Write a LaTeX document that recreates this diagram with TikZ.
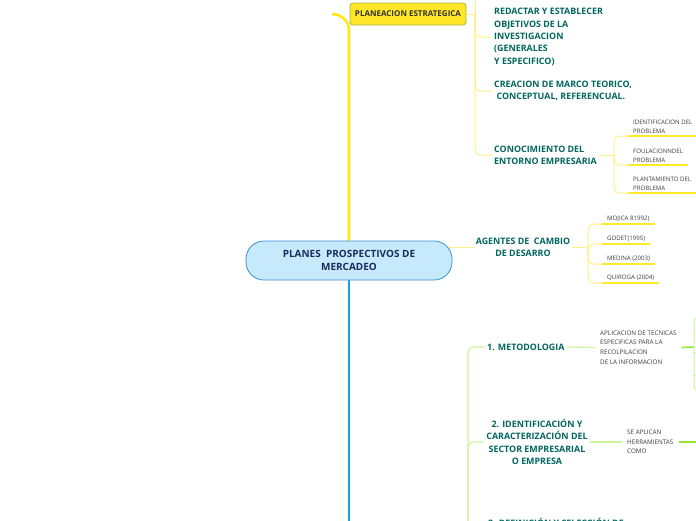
\documentclass[tikz,border=0pt]{standalone}
\usepackage{fontspec}
\setmainfont{Open Sans}
\usetikzlibrary{positioning,backgrounds,calc}
\definecolor{centerfill}{RGB}{198,234,251}
\definecolor{centerdraw}{RGB}{58,143,212}
\definecolor{centertext}{RGB}{26,43,94}
\definecolor{trunkblue}{RGB}{18,165,220}
\definecolor{trunkyellow}{RGB}{255,230,20}
\definecolor{planfill}{RGB}{255,230,41}
\definecolor{plandraw}{RGB}{156,180,58}
\definecolor{paleyellow}{RGB}{255,240,130}
\definecolor{lineyellow}{RGB}{255,234,40}
\definecolor{palegreen}{RGB}{205,245,155}
\definecolor{brightgreen}{RGB}{150,228,55}
\definecolor{topicteal}{RGB}{0,102,94}
\definecolor{leafgray}{RGB}{60,60,60}
\tikzstyle{central} = [rectangle, rounded corners=18pt, minimum width=206pt,
    minimum height=39pt, fill=centerfill, draw=centerdraw, line width=0.8pt,
    font=\fontsize{10}{13}\selectfont\bfseries, text=centertext, align=center]
\tikzstyle{planbox} = [rectangle, rounded corners=3pt, minimum width=116pt,
    minimum height=22pt, fill=planfill, draw=plandraw, line width=0.8pt,
    font=\fontsize{8}{10}\selectfont\bfseries, text=black!80]
\tikzstyle{topic} = [font=\fontsize{8.9}{12.3}\selectfont\bfseries, text=topicteal,
    align=left, inner sep=2pt]
\tikzstyle{leaf} = [font=\fontsize{6.1}{9}\selectfont, text=leafgray, align=left,
    inner xsep=5pt, inner ysep=2pt]
\tikzstyle{ytrunk} = [draw=trunkyellow, line width=2.6pt]
\tikzstyle{btrunk} = [draw=trunkblue, line width=2.6pt]
\tikzstyle{ybus} = [draw=paleyellow, line width=1pt, rounded corners=5pt]
\tikzstyle{uline} = [draw=lineyellow, line width=2pt]
\tikzstyle{gbus} = [draw=palegreen, line width=1.2pt, rounded corners=6pt]
\tikzstyle{gbright} = [draw=brightgreen, line width=1.6pt]

\begin{document}
\begin{tikzpicture}[x=1pt, y=-1pt]
\useasboundingbox (0,0) rectangle (696,520);
\clip (0,0) rectangle (696,520);

% ── Central topic ────
\node[central] (plans) at (349,260.5) {PLANES\ \ PROSPECTIVOS DE\\MERCADEO};

% ── Planeacion branch ────
\node[planbox] (plan) at (408,14) {PLANEACION ESTRATEGICA};
\node[topic, anchor=west] (redactar) at (492,37) {REDACTAR Y ESTABLECER\\OBJETIVOS DE LA\\INVESTIGACION\\(GENERALES\\Y ESPECIFICO)};
\node[topic, anchor=west] (marco) at (492,91) {CREACION DE MARCO TEORICO,\\\ CONCEPTUAL, REFERENCUAL.};
\node[topic, anchor=west] (entorno) at (492,155) {CONOCIMIENTO DEL\\ENTORNO EMPRESARIA};

\node[leaf, anchor=south west] (ident) at (628,136) {IDENTIFICACION DEL\\PROBLEMA};
\node[leaf, anchor=south west] (foul) at (628,165) {FOULACIONNDEL\\PROBLEMA};
\node[leaf, anchor=south west] (plant) at (628,193) {PLANTAMIENTO DEL\\PROBLEMA};

% ── Agentes branch ────
\node[topic, align=center] (agentes) at (523,247.5) {AGENTES DE\ \ CAMBIO\\DE DESARRO};
\node[leaf, anchor=south west] (mojica) at (602,224) {MOJICA 81992)};
\node[leaf, anchor=south west] (godet) at (602,244) {GODET(1995)};
\node[leaf, anchor=south west] (medina) at (602,264) {MEDINA (2003)};
\node[leaf, anchor=south west] (quiroga) at (602,283) {QUIROGA (2004)};

% ── Metodologia branch ────
\node[topic, anchor=west] (metod) at (485,347) {1. METODOLOGIA};
\node[leaf, anchor=west, font=\fontsize{6.3}{9.6}\selectfont] (aplic) at (595,347.5) {APLICACION DE TECNICAS\\ESPECIFICAS PARA LA\\RECOLPILACION\\DE LA INFORMACION};
\node[topic, align=center] (sector) at (537,442) {2. IDENTIFICACIÓN Y\\CARACTERIZACIÓN DEL\\SECTOR EMPRESARIAL\\O EMPRESA};
\node[leaf, anchor=west, font=\fontsize{6.3}{9.6}\selectfont] (herram) at (622,442) {SE APLICAN\\HERRAMIENTAS\\COMO};
\node[topic, anchor=west] (defin) at (486,522) {3. DEFINICIÓN Y SELECCIÓN DE};

% ── Trunks ────
\coordinate (planlink) at (332,14);
\begin{scope}[on background layer]
\draw[ytrunk] (plans.center) -- (349,30) to[out=90, in=0] (planlink);
\draw[btrunk] (plans.center) -- (349,530);
\draw[ybus] (plans.center |- agentes.west) -- (agentes.west);
\end{scope}

% ── Planeacion connectors ────
\coordinate (busP) at (475,14);
\draw[ybus] (plan.east) -- (busP);
\draw[ybus] (busP) -- (475,-5);
\draw[ybus] (busP) |- (redactar.west);
\draw[ybus] (busP) |- (marco.west);
\draw[ybus] (busP) |- (entorno.west);

\coordinate (busE) at (614,155);
\draw[ybus] (entorno.east) -- (busE);
\foreach \leafnode in {ident,foul,plant}
  \draw[ybus] (busE) |- (\leafnode.south west);
\foreach \leafnode in {ident,foul,plant}
  \draw[uline] (\leafnode.south west) -- (\leafnode.south east);

% ── Agentes connectors ────
\coordinate (busG) at (588,247.5);
\draw[ybus] (agentes.east) -- (busG);
\foreach \leafnode in {mojica,godet,medina,quiroga}
  \draw[ybus] (busG) |- (\leafnode.south west);
\foreach \leafnode in {mojica,godet,medina,quiroga}
  \draw[uline] (\leafnode.south west) -- (\leafnode.south east);

% ── Metodologia connectors ────
\coordinate (busM) at (468,530);
\draw[gbus] (busM) |- (metod.west);
\draw[gbus] (busM) |- (sector.west);
\draw[gbus, rounded corners=0pt] (metod.east) -- (aplic.west);
\draw[gbus, rounded corners=0pt] (sector.east) -- (herram.west);

\coordinate (brk) at (694,347);
\draw[gbright] (aplic.east) -- (brk);
\draw[gbus, line width=1pt] (706,316) -| (694,392) -- (706,392);
\foreach \y in {333,352,375}
  \draw[gbus, line width=1pt] (694,\y) -- (706,\y);
\coordinate (herrlink) at (702,442);
\draw[gbright] (herram.east) -- (herrlink);

\end{tikzpicture}
\end{document}
